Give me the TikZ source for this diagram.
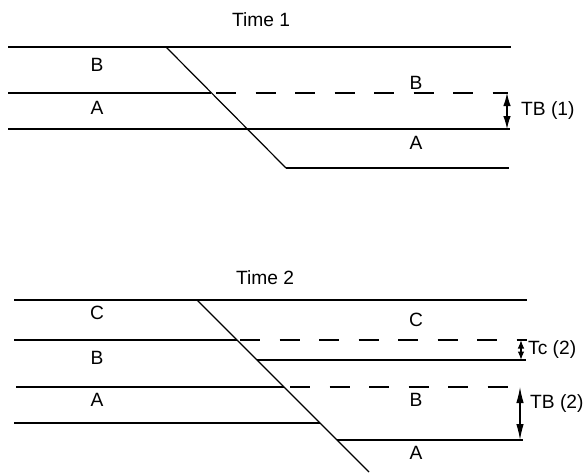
\documentclass[tikz,border=0pt]{standalone}
\usepackage{fontspec}
\setmainfont{Liberation Sans}
\usetikzlibrary{arrows.meta}
\begin{document}
\begin{tikzpicture}[x=1pt,y=-1pt,
  bed/.style={line width=1.2pt},
  bedhidden/.style={line width=1.2pt, dash pattern=on 20pt off 19.5pt},
  fault/.style={line width=1.2pt},
  gap/.style={line width=1.2pt, {Latex[length=#1,width=7.5pt]}-{Latex[length=#1,width=7.5pt]}},
  gap/.default=13pt,
  smallgap/.style={line width=1.2pt, {Latex[length=8.5pt,width=6.5pt]}-{Latex[length=8.5pt,width=6.5pt]}},
  lbl/.style={font=\fontsize{19.2}{21}\selectfont, inner sep=0pt},
  tag/.style={lbl, anchor=west}]
\useasboundingbox (0,0) rectangle (587,472);

% ---------------- Time 1 ----------------
\node[lbl] (t1) at (261,20) {Time 1};

\coordinate (f1a) at (166,47);
\coordinate (f1b) at (286,168);
\draw[fault] (f1a) -- (f1b);

\coordinate (s1l) at (8,47);    \coordinate (s1r) at (511,47);
\draw[bed] (s1l) -- (s1r);

\coordinate (b1l) at (8,93);    \coordinate (b1x) at (211,93);
\coordinate (b1d) at (216,93);  \coordinate (b1r) at (508,93);
\draw[bed] (b1l) -- (b1x);
\draw[bedhidden] (b1d) -- (b1r);

\coordinate (a1l) at (8,129);   \coordinate (a1r) at (510,129);
\draw[bed] (a1l) -- (a1r);

\coordinate (d1r) at (509,168);
\draw[bed] (f1b) -- (d1r);

\node[lbl] (lb1) at (97,65) {B};
\node[lbl] (la1) at (97,108) {A};
\node[lbl] (rb1) at (416,83) {B};
\node[lbl] (ra1) at (416,143) {A};

\coordinate (g1t) at (507,93);
\coordinate (g1b) at (507,129);
\draw[gap] (g1t) -- (g1b);
\node[tag] (tb1) at (521,111) {TB (1)};

% ---------------- Time 2 ----------------
\node[lbl] (t2) at (265,278) {Time 2};

\coordinate (f2a) at (197,300);
\coordinate (f2b) at (369,472);
\draw[fault] (f2a) -- (f2b);

\coordinate (s2l) at (14,300);   \coordinate (s2r) at (527,300);
\draw[bed] (s2l) -- (s2r);

\coordinate (c2l) at (14,340);   \coordinate (c2x) at (237,340);
\coordinate (c2d) at (240,340);  \coordinate (c2r) at (527,340);
\draw[bed] (c2l) -- (c2x);
\draw[bedhidden] (c2d) -- (c2r);

\coordinate (c2a) at (257,360);  \coordinate (c2b) at (526,360);
\draw[bed] (c2a) -- (c2b);

\coordinate (b2l) at (16,387);   \coordinate (b2x) at (284,387);
\coordinate (b2d) at (290,387);  \coordinate (b2r) at (508,387);
\draw[bed] (b2l) -- (b2x);
\draw[bedhidden] (b2d) -- (b2r);

\coordinate (a2l) at (14,423);   \coordinate (a2x) at (320,423);
\draw[bed] (a2l) -- (a2x);

\coordinate (a2a) at (337,440);  \coordinate (a2b) at (523,440);
\draw[bed] (a2a) -- (a2b);

\node[lbl] (lc2) at (97,313) {C};
\node[lbl] (lb2) at (97,358) {B};
\node[lbl] (la2) at (97,400) {A};
\node[lbl] (rc2) at (416,320) {C};
\node[lbl] (rb2) at (416,400) {B};
\node[lbl] (ra2) at (416,453) {A};

\coordinate (g2t) at (521,340);
\coordinate (g2b) at (521,360);
\draw[smallgap] (g2t) -- (g2b);
\node[tag] (tc2) at (528,350) {Tc (2)};

\coordinate (g3t) at (520,387);
\coordinate (g3b) at (520,440);
\draw[gap=16pt] (g3t) -- (g3b);
\node[tag] (tb2) at (530,404) {TB (2)};
\end{tikzpicture}
\end{document}
